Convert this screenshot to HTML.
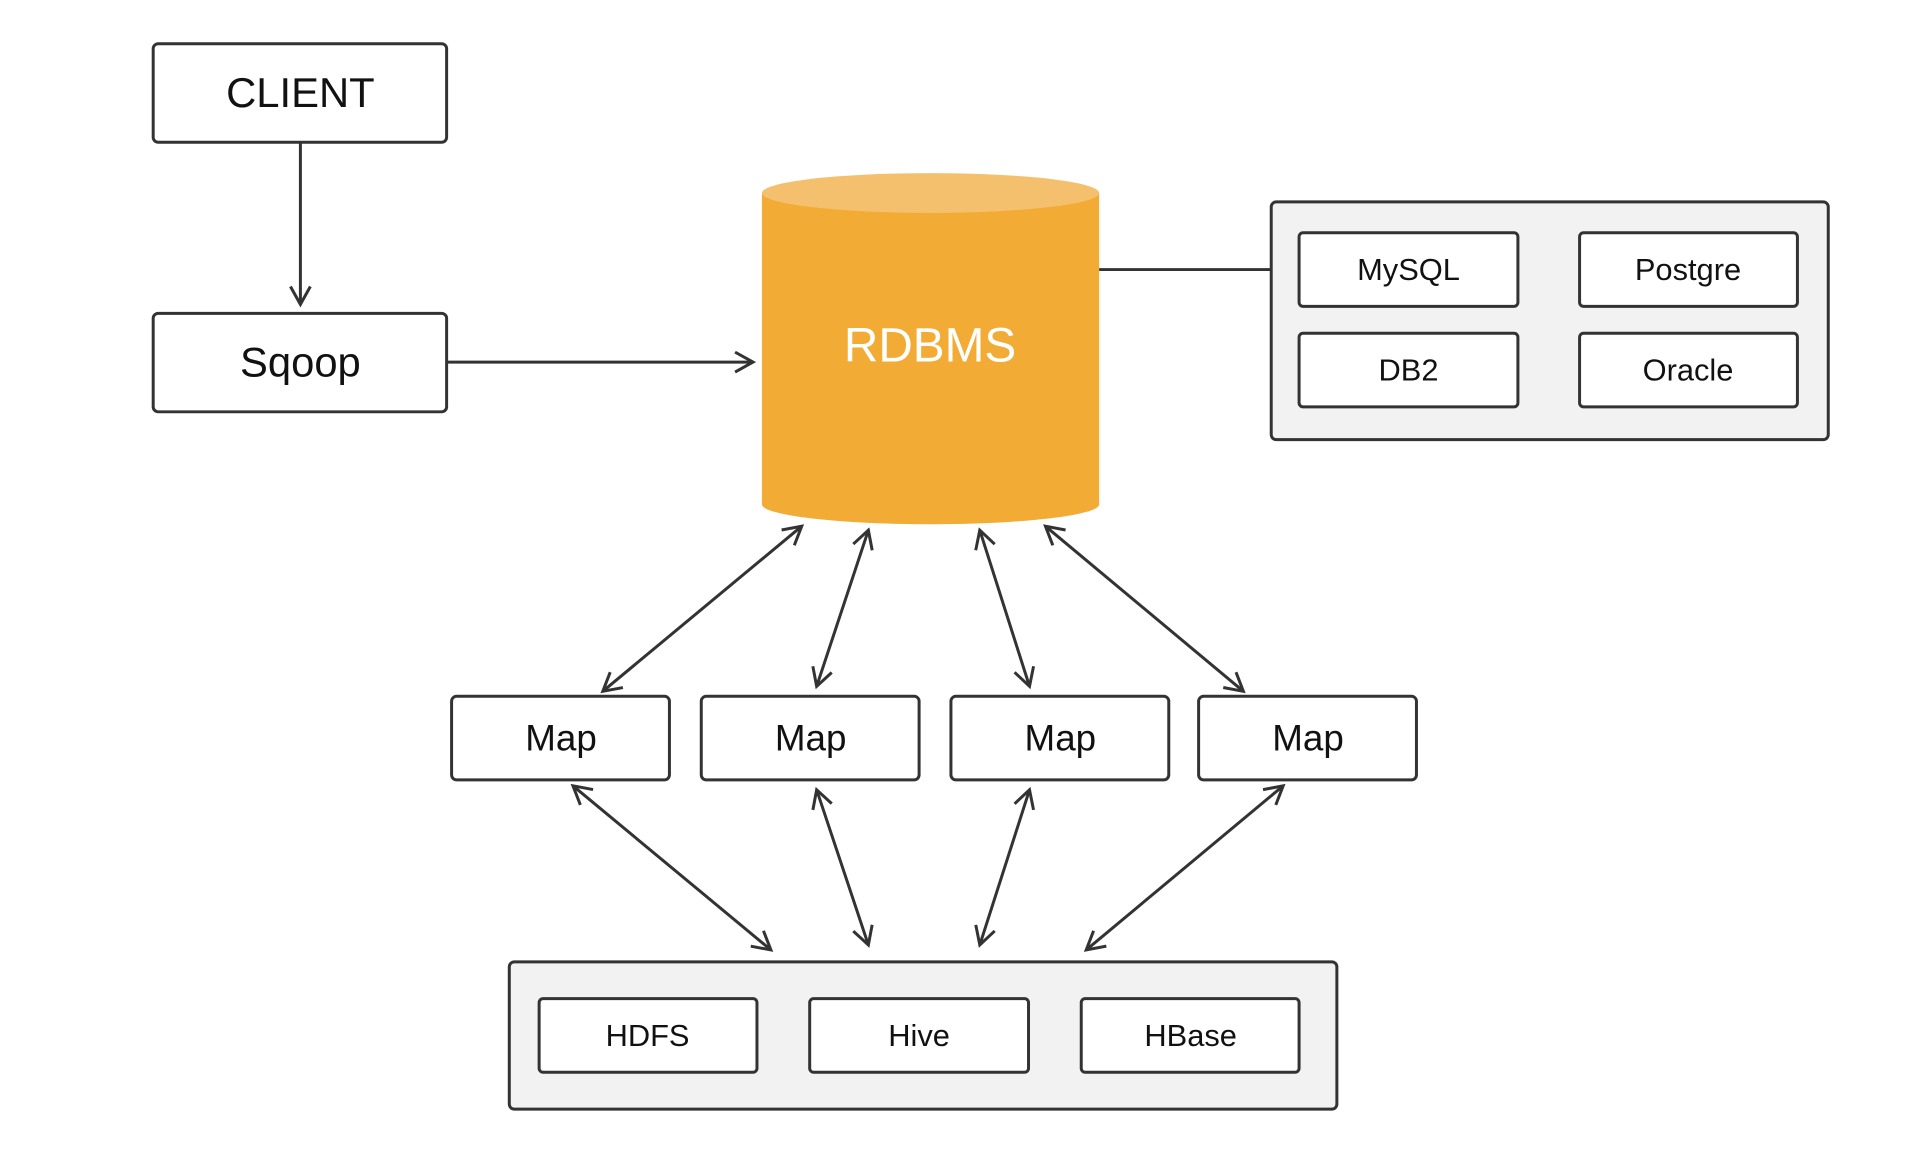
<!DOCTYPE html>
<html><head><meta charset="utf-8"><style>
html,body{margin:0;padding:0;background:#fff;}
svg{display:block;}
text{font-family:"Liberation Sans",sans-serif;fill:#111;text-anchor:middle;dominant-baseline:central;}
.b{fill:#fff;stroke:#333;stroke-width:3;}
.g{fill:#f2f2f2;stroke:#333;stroke-width:3;}
.l{stroke:#333;stroke-width:3;fill:none;}
</style></head><body>
<svg width="1920" height="1159" viewBox="0 0 1920 1159" xmlns="http://www.w3.org/2000/svg">
<defs>
<marker id="a" viewBox="0 0 24 24" refX="21" refY="12" markerWidth="24" markerHeight="24" markerUnits="userSpaceOnUse" orient="auto-start-reverse">
<path d="M3,2 L21,12 L3,22" fill="none" stroke="#333" stroke-width="3"/>
</marker>
</defs>
<g transform="scale(0.9947)">
<rect class="b" x="154" y="44" width="295" height="99" rx="5"/>
<text x="302" y="93" font-size="42">CLIENT</text>
<rect class="b" x="154" y="315" width="295" height="99" rx="5"/>
<text x="302" y="364" font-size="42">Sqoop</text>
<line class="l" x1="302" y1="143" x2="302" y2="306" marker-end="url(#a)"/>
<line class="l" x1="449" y1="364" x2="757" y2="364" marker-end="url(#a)"/>
<path d="M766,194 L766,507 A169.5,20 0 0 0 1105,507 L1105,194 Z" fill="#f2ac36"/>
<ellipse cx="935.5" cy="194" rx="169.5" ry="20" fill="#f5c06e"/>
<text x="935" y="348" font-size="48" style="fill:#fff">RDBMS</text>
<line class="l" x1="1105" y1="271" x2="1278" y2="271"/>
<rect class="g" x="1278" y="203" width="560" height="239" rx="5"/>
<rect class="b" x="1306" y="234" width="220" height="74" rx="4"/><text x="1416" y="271" font-size="31">MySQL</text>
<rect class="b" x="1588" y="234" width="219" height="74" rx="4"/><text x="1697" y="271" font-size="31">Postgre</text>
<rect class="b" x="1306" y="335" width="220" height="74" rx="4"/><text x="1416" y="372" font-size="31">DB2</text>
<rect class="b" x="1588" y="335" width="219" height="74" rx="4"/><text x="1697" y="372" font-size="31">Oracle</text>
<rect class="b" x="454" y="700" width="219" height="84" rx="5"/><text x="564" y="742" font-size="37">Map</text>
<rect class="b" x="705" y="700" width="219" height="84" rx="5"/><text x="815" y="742" font-size="37">Map</text>
<rect class="b" x="956" y="700" width="219" height="84" rx="5"/><text x="1066" y="742" font-size="37">Map</text>
<rect class="b" x="1205" y="700" width="219" height="84" rx="5"/><text x="1315" y="742" font-size="37">Map</text>
<g class="l" marker-start="url(#a)" marker-end="url(#a)">
<line x1="806" y1="529" x2="606" y2="695"/>
<line x1="873" y1="533" x2="821" y2="690"/>
<line x1="985" y1="533" x2="1035" y2="690"/>
<line x1="1051" y1="529" x2="1250" y2="695"/>
<line x1="576" y1="790" x2="775" y2="955"/>
<line x1="821" y1="794" x2="873" y2="950"/>
<line x1="1035" y1="794" x2="985" y2="950"/>
<line x1="1290" y1="790" x2="1092" y2="955"/>
</g>
<rect class="g" x="512" y="967" width="832" height="148" rx="5"/>
<rect class="b" x="542" y="1004" width="219" height="74" rx="4"/><text x="651" y="1041" font-size="31">HDFS</text>
<rect class="b" x="814" y="1004" width="220" height="74" rx="4"/><text x="924" y="1041" font-size="31">Hive</text>
<rect class="b" x="1087" y="1004" width="219" height="74" rx="4"/><text x="1197" y="1041" font-size="31">HBase</text>
</g>
</svg>
</body></html>
